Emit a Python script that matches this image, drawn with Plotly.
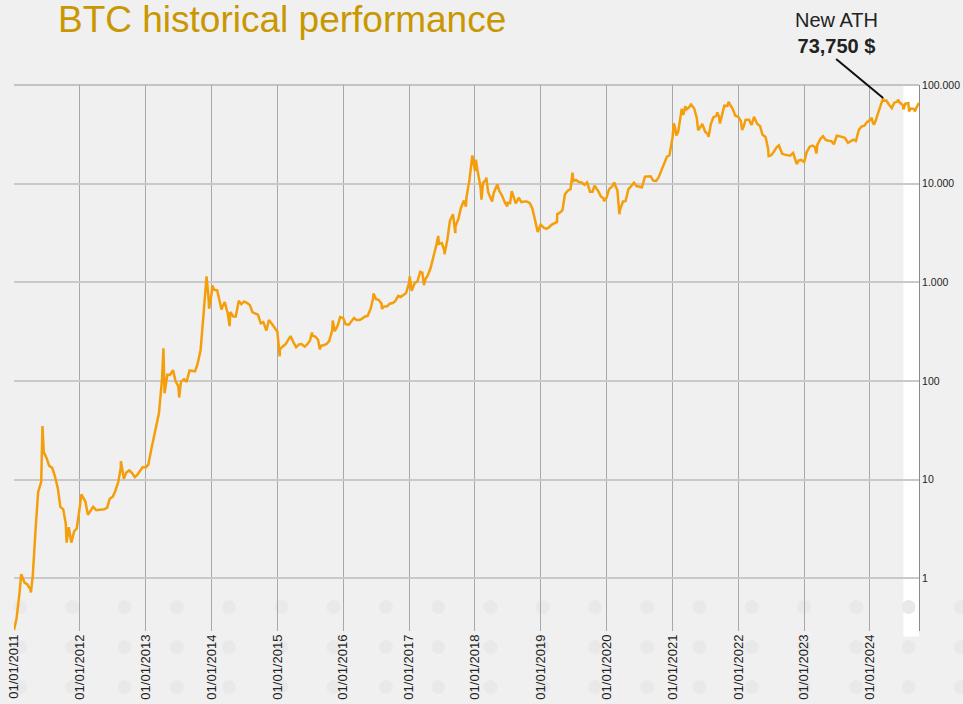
import numpy as np
import pandas as pd
import plotly.graph_objects as go

p2011 = [0.30, 0.39, 0.72, 1.05, 0.90, 0.87, 0.78, 1.05, 3.2, 7.5, 9.5, 19.0,
         16.5, 13.8, 13.2, 11.0, 8.2, 5.3, 5.0, 3.6, 3.3, 2.3, 3.0, 3.2]
p2012 = [5.3, 6.8, 6.0, 4.4, 4.9, 5.3, 4.9, 4.95, 5.0, 5.0, 5.2, 6.4,
         6.7, 7.6, 9.4, 13.0, 10.2, 11.8, 12.4, 11.8, 10.6, 11.2, 12.5, 13.4]
p2013 = [13.3, 14.2, 20.4, 27.0, 34.5, 47.0, 104, 75, 116, 115, 129, 100,
         88, 98, 104, 98, 128, 126, 125, 148, 206, 418, 950, 700]
p2014 = [770, 840, 830, 640, 560, 630, 480, 500, 450, 450, 650, 600,
         640, 620, 590, 500, 480, 470, 385, 395, 325, 415, 380, 345]
p2015 = [315, 210, 225, 235, 260, 285, 245, 220, 235, 237, 223, 235,
         258, 288, 281, 260, 228, 230, 237, 254, 325, 320, 362, 444]
p2016 = [434, 375, 372, 400, 434, 415, 416, 429, 450, 455, 537, 690,
         676, 665, 606, 568, 572, 607, 616, 640, 730, 710, 752, 778]
p2017 = [998, 820, 990, 1010, 1220, 1250, 1080, 1180, 1420, 1750, 2400, 2450,
         2500, 2100, 2720, 4200, 4900, 3700, 4400, 5680, 6740, 7300, 10800, 17700]
p2018 = [13500, 13600, 9200, 10200, 10900, 8200, 6900, 8050, 9200, 8500, 7500, 6500,
         6400, 6350, 7600, 6300, 7200, 6500, 6600, 6600, 6350, 5600, 4200, 3230]
p2019 = [3850, 3600, 3480, 3600, 3830, 3920, 4100, 5050, 5350, 7800, 8550, 8800,
         10600, 10900, 10400, 10300, 9750, 10300, 8300, 8300, 9200, 8450, 7400, 7100]
p2020 = [7200, 8800, 9350, 9900, 8550, 5400, 6600, 6640, 8800, 9380, 10200, 9450,
         9230, 9200, 11800, 11900, 11900, 10800, 10600, 11500, 13800, 16000, 18800, 19400]
p2021 = [29400, 36800, 33500, 48600, 49600, 55900, 59000, 63200, 57800, 46700, 36700, 40200,
         33600, 31800, 39900, 47000, 48800, 48100, 48200, 61700, 61300, 63600, 57200, 48900]
p2022 = [47700, 43100, 38700, 44500, 44400, 39300, 46300, 40500, 38500, 31300, 29800, 22500,
         19300, 20800, 23300, 24100, 20100, 19700, 19300, 19200, 20500, 16900, 17100, 17400]
p2023 = [16600, 20900, 23700, 24300, 23600, 24700, 28450, 30300, 27700, 27200, 27000, 25100,
         30600, 30300, 29700, 29200, 25900, 26600, 27900, 27100, 35400, 37900, 38700, 42000]
p2024 = [44200, 42500, 43100, 51900, 62400, 69400, 69700, 63400, 58300, 66200, 67700, 66000,
         62700, 64700, 65300, 57600, 57300, 59000]

# extra highs / lows between the regular readings
peak_dates = ["2011-02-10", "2011-04-05", "2011-06-08", "2011-10-20", "2012-01-10",
              "2012-08-16", "2013-04-09", "2013-07-05", "2013-12-04", "2013-12-18",
              "2014-01-05", "2014-02-25", "2014-04-11", "2015-01-14", "2015-07-12",
              "2015-08-24", "2015-11-04", "2016-06-17", "2016-08-02", "2017-01-04",
              "2017-03-03", "2017-03-24", "2017-06-11", "2017-07-16", "2017-09-14",
              "2017-11-12", "2017-12-17", "2018-01-06", "2018-02-06", "2018-03-05",
              "2018-04-06", "2018-05-05", "2018-06-29", "2018-07-24", "2019-04-02",
              "2019-06-26", "2019-10-26", "2019-12-17", "2020-02-13", "2020-03-12",
              "2021-01-08", "2021-01-22", "2021-02-21", "2021-03-13", "2021-04-13",
              "2021-05-23", "2021-07-20", "2021-09-06", "2021-09-21", "2021-11-08",
              "2022-01-22", "2022-02-10", "2022-03-29", "2022-06-18", "2022-08-14",
              "2022-11-21", "2023-03-10", "2024-01-11", "2024-01-23", "2024-03-14",
              "2024-06-05", "2024-07-05", "2024-08-05", "2024-09-06", "2024-09-29"]
peak_prices = [1.1, 0.72, 35, 2.3, 7.1,
               15.4, 215, 68, 1150, 540,
               930, 530, 360, 178, 310,
               210, 410, 770, 540, 1150,
               1275, 935, 2950, 1930, 3150,
               5860, 19300, 17500, 6900, 11500,
               6600, 9850, 5900, 8400, 4900,
               12900, 9550, 6650, 10350, 4900,
               40800, 30800, 57500, 61200, 63500,
               34700, 29800, 52700, 40700, 67500,
               35000, 44400, 47500, 19000, 24400,
               15800, 20200, 46600, 39500, 73750,
               71100, 56700, 54000, 54000, 65800]

year_ticks = [f"{y}-01-01" for y in range(2011, 2025)]
year_labels = [f"01/01/{y}" for y in range(2011, 2025)]
y_ticks = [1, 10, 100, 1000, 10000, 100000]
y_labels = ["1", "10", "100", "1.000", "10.000", "100.000"]

ath_date = "2024-03-14"
ath_price = 73750

regular = p2011 + p2012 + p2013 + p2014 + p2015 + p2016 + p2017 + p2018 + \
    p2019 + p2020 + p2021 + p2022 + p2023 + p2024
df = pd.concat([
    pd.DataFrame({"date": pd.date_range("2011-01-01", periods=len(regular), freq="SMS"),
                  "price": regular}),
    pd.DataFrame({"date": pd.to_datetime(peak_dates), "price": peak_prices}),
]).sort_values("date")

BG = "#f0f0f0"
FONT = "Liberation Sans, Arial, sans-serif"

fig = go.Figure(go.Scatter(
    x=df["date"], y=df["price"], mode="lines",
    line=dict(color="#f59e0b", width=2.5),
    hoverinfo="skip",
))

# white band over the latest months
fig.add_shape(type="rect", xref="x", yref="paper", x0="2024-07-04", x1="2024-09-29",
              y0=-0.01, y1=1, fillcolor="white", line_width=0, layer="below")

# top border (the 100.000 grid line sits on the edge)
fig.add_shape(type="line", xref="paper", yref="paper", x0=0, x1=1, y0=1, y1=1,
              line=dict(color="#c4c4c4", width=2), layer="below")

# faint dotted background pattern along the bottom
for row_px in [607, 647, 687]:
    for k in range(19):
        cx = (20 + 52.27 * k - 14) / 905
        cy = (631 - row_px) / 546
        fig.add_shape(type="circle", xref="paper", yref="paper",
                      x0=cx - 7 / 905, x1=cx + 7 / 905, y0=cy - 7 / 546, y1=cy + 7 / 546,
                      fillcolor="#e9e9e9", line_width=0, layer="below")

fig.add_annotation(
    x=ath_date, y=np.log10(ath_price), xref="x", yref="y",
    text=f"New ATH<br><b>{ath_price:,} $</b>",
    showarrow=True, arrowhead=0, arrowwidth=2, arrowcolor="#111111",
    ax=-47, ay=-39, xanchor="center", yanchor="bottom",
    font=dict(size=20, color="#222222", family=FONT),
)

fig.update_layout(
    width=963, height=704,
    margin=dict(l=14, r=44, t=85, b=73, autoexpand=False),
    paper_bgcolor=BG, plot_bgcolor=BG,
    showlegend=False,
    font=dict(family=FONT, color="#222222"),
    title=dict(text="BTC historical performance", x=58 / 963, xanchor="left",
               y=1 - 19 / 704, yanchor="middle",
               font=dict(size=37, color="#c99700", family=FONT)),
    xaxis=dict(type="date", range=["2011-01-01", "2024-09-29"],
               tickvals=year_ticks, ticktext=year_labels, tickangle=-90,
               tickfont=dict(size=13, color="#222222"), automargin=False,
               showgrid=True, gridcolor="#a8a8a8", gridwidth=1,
               zeroline=False, showline=False, ticks=""),
    yaxis=dict(type="log", range=[-0.534, 5], side="right",
               tickvals=y_ticks, ticktext=y_labels,
               tickfont=dict(size=10.5, color="#222222"), automargin=False,
               showgrid=True, gridcolor="#c9c9c9", gridwidth=2,
               zeroline=False, showline=True, linecolor="#8a8a8a", linewidth=1,
               ticks=""),
)

fig.write_html("out.html", config={"displayModeBar": False},
               post_script="document.body.style.margin='0';")
